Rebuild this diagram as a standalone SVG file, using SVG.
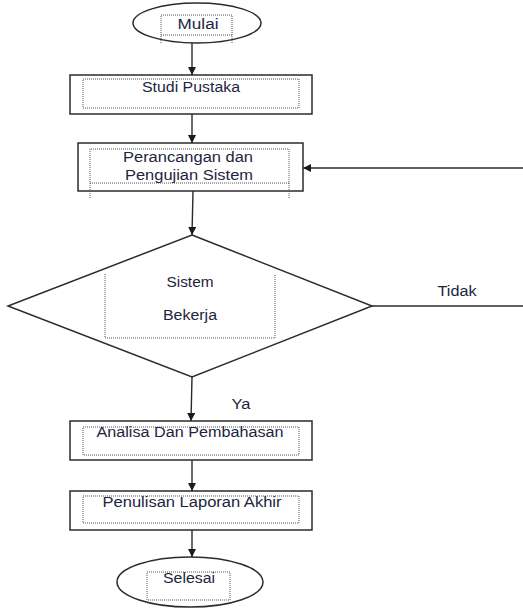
<svg xmlns="http://www.w3.org/2000/svg" width="523" height="608" viewBox="0 0 523 608">
<style>
.shape{fill:#fff;stroke:#2b2b2b;stroke-width:1.5}
.dot{fill:none;stroke:#555;stroke-width:1;stroke-dasharray:1 1}
.conn{fill:none;stroke:#2b2b2b;stroke-width:1.4}
text{font-family:"Liberation Sans",Arial,sans-serif;font-size:14px;fill:#1e2440;text-anchor:middle}
</style>
<defs>
<marker id="ah" viewBox="0 0 10 10" refX="10" refY="5" markerWidth="6" markerHeight="6" markerUnits="strokeWidth" orient="auto">
<path d="M0,0 L10,5 L0,10 z" fill="#1a1a1a"/>
</marker>
</defs>
<rect width="523" height="608" fill="#fff"/>
<g id="connectors">
<line class="conn" x1="192" y1="43" x2="192" y2="75" marker-end="url(#ah)"/>
<line class="conn" x1="192" y1="114" x2="192" y2="143" marker-end="url(#ah)"/>
<line class="conn" x1="193" y1="191" x2="192" y2="235" marker-end="url(#ah)"/>
<line class="conn" x1="192" y1="377" x2="191" y2="421" marker-end="url(#ah)"/>
<line class="conn" x1="192" y1="460" x2="192" y2="491" marker-end="url(#ah)"/>
<line class="conn" x1="192" y1="530" x2="192" y2="557" marker-end="url(#ah)"/>
<line class="conn" x1="372" y1="306" x2="523" y2="306"/>
<line class="conn" x1="523" y1="168" x2="303" y2="168" marker-end="url(#ah)"/>
<text x="457" y="296" textLength="39" lengthAdjust="spacingAndGlyphs">Tidak</text>
<text x="241" y="409" textLength="19" lengthAdjust="spacingAndGlyphs">Ya</text>
</g>
<g id="mulai">
<ellipse class="shape" cx="197" cy="23" rx="64" ry="20"/>
<path class="dot" d="M161,43 V15 H232 V43 M161,35 H232"/>
<text x="198" y="29" textLength="41" lengthAdjust="spacingAndGlyphs">Mulai</text>
</g>
<g id="studi">
<rect class="shape" x="70" y="75" width="242" height="39"/>
<rect class="dot" x="83" y="79" width="216" height="29"/>
<text x="191" y="92" textLength="98" lengthAdjust="spacingAndGlyphs">Studi Pustaka</text>
</g>
<g id="perancangan">
<rect class="shape" x="78" y="143" width="225" height="48"/>
<path class="dot" d="M90,198 V149 H289 V198 M90,183 H289"/>
<text x="188" y="162" textLength="130" lengthAdjust="spacingAndGlyphs">Perancangan dan</text>
<text x="189" y="180" textLength="128" lengthAdjust="spacingAndGlyphs">Pengujian Sistem</text>
</g>
<g id="keputusan">
<polygon class="shape" points="192,235 372,306 192,377 8,306"/>
<path class="dot" d="M105,274 V338 H275 V274"/>
<text x="190" y="287" textLength="47" lengthAdjust="spacingAndGlyphs">Sistem</text>
<text x="190" y="320" textLength="54" lengthAdjust="spacingAndGlyphs">Bekerja</text>
</g>
<g id="analisa">
<rect class="shape" x="70" y="421" width="242" height="39"/>
<rect class="dot" x="83" y="427" width="216" height="28"/>
<text x="190" y="437" textLength="187" lengthAdjust="spacingAndGlyphs">Analisa Dan Pembahasan</text>
</g>
<g id="penulisan">
<rect class="shape" x="70" y="491" width="242" height="39"/>
<rect class="dot" x="83" y="496" width="216" height="27"/>
<text x="192" y="507" textLength="179" lengthAdjust="spacingAndGlyphs">Penulisan Laporan Akhir</text>
</g>
<g id="selesai">
<ellipse class="shape" cx="190" cy="582" rx="73" ry="25"/>
<rect class="dot" x="147" y="572" width="83" height="28"/>
<text x="189" y="583" textLength="52" lengthAdjust="spacingAndGlyphs">Selesai</text>
</g>
</svg>
